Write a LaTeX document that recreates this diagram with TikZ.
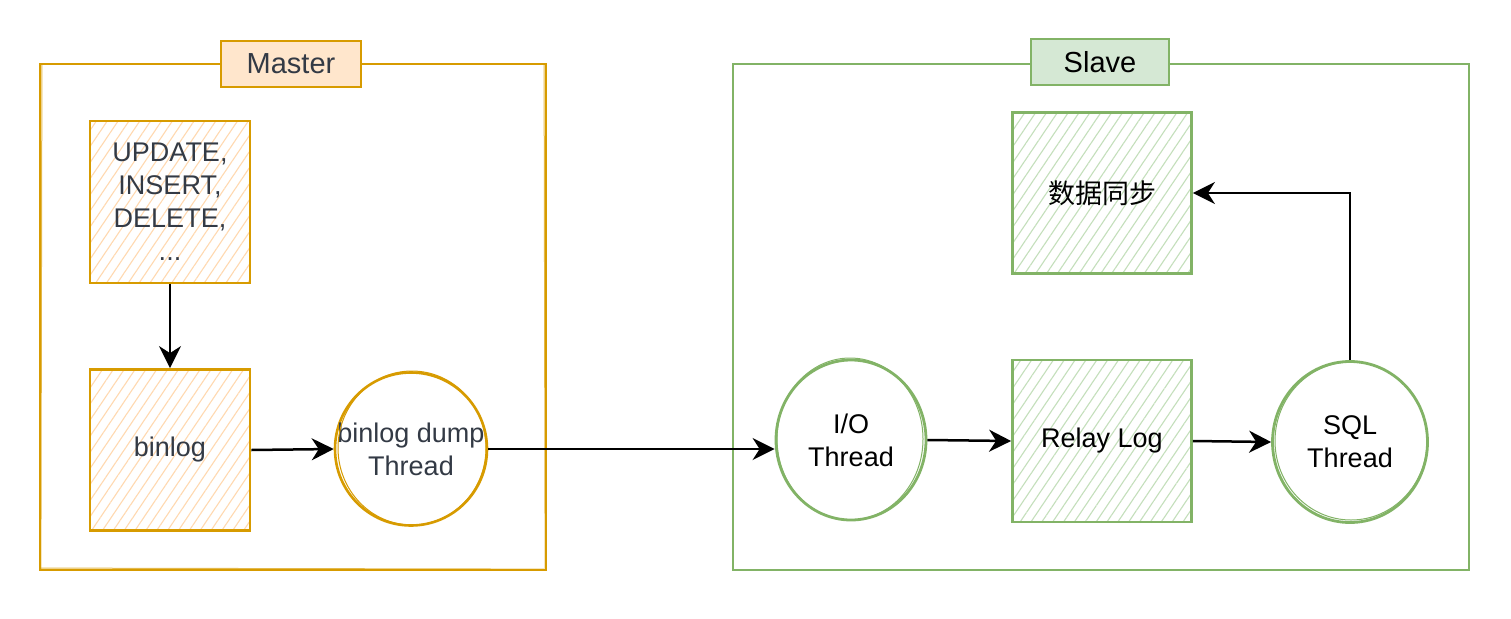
\documentclass[tikz,border=0pt]{standalone}
\usepackage{fontspec}
\setmainfont{Liberation Sans}
\newfontfamily\cjk{Noto Sans CJK SC}
\usetikzlibrary{patterns.meta,arrows.meta,shapes.geometric}
\definecolor{mo}{HTML}{D79B00}
\definecolor{mofill}{HTML}{FFE6CC}
\definecolor{mhatch}{HTML}{FFD9B0}
\definecolor{gs}{HTML}{82B366}
\definecolor{gsfill}{HTML}{D5E8D4}
\definecolor{ghatch}{HTML}{C4DFBB}
\definecolor{mtext}{HTML}{333A45}
\begin{document}
\begin{tikzpicture}[x=1pt,y=-1pt,
  every node/.style={font=\fontsize{27}{33}\selectfont, inner sep=0pt, align=center},
  mframe/.style={draw=mo, line width=2.2pt},
  sframe/.style={draw=gs, line width=2.2pt},
  mlabel/.style={draw=mo, line width=2.2pt, fill=mofill, text=mtext, font=\fontsize{29}{34}\selectfont},
  slabel/.style={draw=gs, line width=2.2pt, fill=gsfill, text=black, font=\fontsize{29}{34}\selectfont},
  mbox/.style={draw=mo, line width=2.8pt, preaction={fill=white}, text=mtext,
    pattern={Lines[angle=56,distance=9pt,line width=1.1pt]}, pattern color=mhatch},
  sbox/.style={draw=gs, line width=2.8pt, preaction={fill=white}, text=black,
    pattern={Lines[angle=56,distance=9pt,line width=1.1pt]}, pattern color=ghatch},
  mcirc/.style={ellipse, draw=mo, line width=2.6pt, fill=white, text=mtext, inner xsep=-50pt, inner ysep=-25pt},
  scirc/.style={ellipse, draw=gs, line width=2.8pt, fill=white, text=black, inner xsep=-50pt, inner ysep=-25pt},
  sketchm/.style={draw=mo, line width=1pt},
  sketchs/.style={draw=gs, line width=1pt},
  conn/.style={draw=black, line width=2.5pt, -{Stealth[length=22pt,width=22pt,inset=7pt]}}
]
\useasboundingbox (0,0) rectangle (1511,618);

% frames
\node[mframe, minimum width=506pt, minimum height=506pt] (mf) at (293,317) {};
\node[sframe, minimum width=736pt, minimum height=506pt] (sf) at (1101,317) {};
\draw[sketchm, opacity=0.7] ([shift={(3,2)}]mf.north west) -- ([shift={(2,-2)}]mf.south west);
\draw[sketchm, opacity=0.7] ([shift={(2,-3)}]mf.south west) -- ([shift={(-2,-2)}]mf.south east);
\draw[sketchm, opacity=0.7] ([shift={(-3,2)}]mf.north east) -- ([shift={(-2,-3)}]mf.south east);

% labels
\node[mlabel, minimum width=140pt, minimum height=46pt] (ml) at (291,64) {Master};
\node[slabel, minimum width=138pt, minimum height=46pt] (sl) at (1100,62) {Slave};

% master nodes
\node[mbox, minimum width=160pt, minimum height=162pt] (upd) at (170,202) {UPDATE,\\INSERT,\\DELETE,\\...};
\node[mbox, minimum width=160pt, minimum height=161pt] (bin) at (170,450) {binlog};
\node[mcirc, minimum width=152pt, minimum height=153pt] (dump) at (411,449) {binlog dump\\Thread};
\draw[sketchm] ([shift={(1,-1)}]dump.center) ellipse [x radius=74pt, y radius=77pt];

% slave nodes
\node[sbox, minimum width=179pt, minimum height=161pt] (sync) at (1102,193) {\cjk 数据同步};
\node[sbox, minimum width=179pt, minimum height=162pt] (relay) at (1102,441) {Relay Log};
\node[scirc, minimum width=150pt, minimum height=160pt] (io) at (851,440) {I/O\\Thread};
\node[scirc, minimum width=155pt, minimum height=161pt] (sql) at (1350,442) {SQL\\Thread};
\draw[sketchs] ([shift={(-1,-1)}]io.center) ellipse [x radius=73pt, y radius=81pt];
\draw[sketchs] ([shift={(1,-1)}]sql.center) ellipse [x radius=76pt, y radius=79pt];

% connectors
\draw[conn] (upd.south) -- (bin.north);
\draw[conn] (bin.east) -- (dump.west);
\draw[conn] (dump.east) -- (io.west |- dump.east);
\draw[conn] (io.east) -- (relay.west);
\draw[conn] (relay.east) -- (sql.west);
\draw[conn] (sql.north) |- (sync.east);
\end{tikzpicture}
\end{document}
